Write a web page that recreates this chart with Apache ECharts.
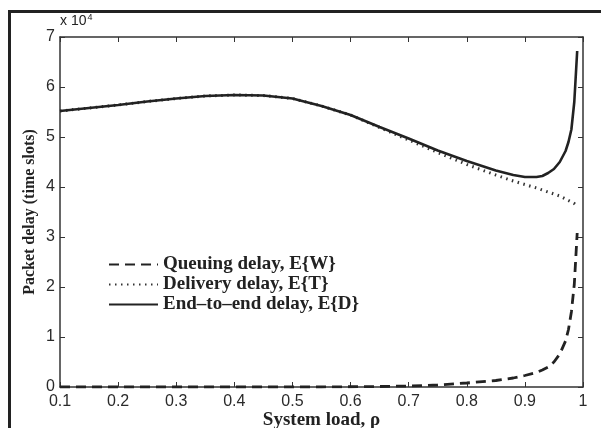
<!DOCTYPE html>
<html>
<head>
<meta charset="utf-8">
<script src="https://cdn.jsdelivr.net/npm/echarts@6/dist/echarts.min.js"></script>
<style>
  html, body { margin: 0; padding: 0; background: #fff; }
  #chart { width: 601px; height: 428px; }
</style>
</head>
<body>
<div id="chart"></div>
<script>
// System load values (x) shared by all three curves
const loads = [0.10, 0.15, 0.20, 0.25, 0.30, 0.35, 0.40, 0.45, 0.50, 0.55, 0.60, 0.65,
               0.70, 0.75, 0.80, 0.85, 0.88, 0.90, 0.92, 0.93, 0.94, 0.95, 0.96, 0.97,
               0.975, 0.98, 0.985, 0.99];

// Queuing delay E{W}
const queuing = [0.00, 0.00, 0.00, 0.00, 0.00, 0.00, 0.00, 0.00, 0.00, 0.00, 0.005, 0.01,
                 0.02, 0.04, 0.08, 0.13, 0.18, 0.23, 0.29, 0.34, 0.40, 0.50, 0.66, 0.92,
                 1.15, 1.50, 2.05, 3.08];

// Delivery delay E{T}
const delivery = [5.52, 5.58, 5.64, 5.71, 5.77, 5.82, 5.84, 5.83, 5.77, 5.62, 5.44, 5.19,
                  4.94, 4.69, 4.45, 4.24, 4.12, 4.05, 3.98, 3.94, 3.90, 3.86, 3.82, 3.76,
                  3.73, 3.70, 3.67, 3.62];

// End-to-end delay E{D}
const endToEnd = [5.52, 5.58, 5.64, 5.71, 5.77, 5.82, 5.84, 5.83, 5.77, 5.62, 5.44, 5.20,
                  4.97, 4.73, 4.52, 4.33, 4.24, 4.20, 4.20, 4.22, 4.28, 4.36, 4.50, 4.72,
                  4.90, 5.15, 5.70, 6.72];

const names = ['Queuing delay, E{W}', 'Delivery delay, E{T}', 'End\u2013to\u2013end delay, E{D}'];

const pairs = ys => loads.map((x, i) => [x, ys[i]]);

const ink = '#222';
const sans = 'Liberation Sans, Arial, sans-serif';
const serif = 'Liberation Serif, Times New Roman, serif';
const tickFont = { fontFamily: sans, fontSize: 16, color: '#2a2a2a' };

const chart = echarts.init(document.getElementById('chart'), null, { renderer: 'canvas' });

const frameAxis = {
  axisLine: { show: true, onZero: false, lineStyle: { color: '#333', width: 1.5 } },
  axisTick: { show: true, inside: true, length: 5, lineStyle: { color: '#333', width: 1 } },
  splitLine: { show: false }
};

chart.setOption({
  animation: false,
  backgroundColor: '#fff',
  grid: { left: 60, right: 18, top: 37, bottom: 41, containLabel: false, outerBoundsMode: 'none' },
  graphic: [
    { type: 'line', shape: { x1: 8, y1: 11.5, x2: 601, y2: 11.5 }, style: { stroke: ink, lineWidth: 3 } },
    { type: 'line', shape: { x1: 9.5, y1: 10, x2: 9.5, y2: 428 }, style: { stroke: ink, lineWidth: 3 } },
    {
      type: 'text', left: 60, top: 13,
      style: {
        text: '{b|x 10}{s|4}',
        rich: {
          b: { fontFamily: sans, fontSize: 14, fill: ink },
          s: { fontFamily: sans, fontSize: 9, fill: ink, verticalAlign: 'top', padding: [0, 0, 8, 1] }
        }
      }
    }
  ],
  legend: {
    orient: 'vertical',
    left: 108,
    top: 255,
    padding: 0,
    itemWidth: 49,
    itemHeight: 14,
    itemGap: 1,
    data: names,
    itemStyle: { opacity: 0 },
    textStyle: { fontFamily: serif, fontWeight: 'bold', fontSize: 19, color: ink }
  },
  xAxis: [
    Object.assign({}, frameAxis, {
      type: 'value', min: 0.1, max: 1, interval: 0.1,
      name: 'System load, \u03c1', nameLocation: 'middle', nameGap: 24, nameMoveOverlap: false,
      nameTextStyle: { fontFamily: serif, fontWeight: 'bold', fontSize: 19, color: ink },
      axisLabel: { margin: 7, ...tickFont, formatter: v => String(+v.toFixed(1)) }
    }),
    Object.assign({}, frameAxis, {
      type: 'value', min: 0.1, max: 1, interval: 0.1, position: 'top',
      axisLabel: { show: false }
    })
  ],
  yAxis: [
    Object.assign({}, frameAxis, {
      type: 'value', min: 0, max: 7, interval: 1,
      name: 'Packet delay (time slots)', nameLocation: 'middle', nameGap: 22, nameMoveOverlap: false,
      nameTextStyle: { fontFamily: serif, fontWeight: 'bold', fontSize: 16, color: ink },
      axisLabel: { margin: 5, ...tickFont }
    }),
    Object.assign({}, frameAxis, {
      type: 'value', min: 0, max: 7, interval: 1, position: 'right',
      axisLabel: { show: false }
    })
  ],
  series: [
    {
      name: names[1], type: 'line', data: pairs(delivery), symbol: 'none', z: 2,
      itemStyle: { color: '#333' },
      lineStyle: { color: '#333', width: 3, type: [1.5, 4.5], cap: 'butt' }
    },
    {
      name: names[0], type: 'line', data: pairs(queuing), symbol: 'none', z: 3,
      itemStyle: { color: ink },
      lineStyle: { color: ink, width: 2.8, type: [10, 6], cap: 'butt' }
    },
    {
      name: names[2], type: 'line', data: pairs(endToEnd), symbol: 'none', z: 4,
      itemStyle: { color: ink },
      lineStyle: { color: ink, width: 2.6, type: 'solid' }
    }
  ]
});
</script>
</body>
</html>
